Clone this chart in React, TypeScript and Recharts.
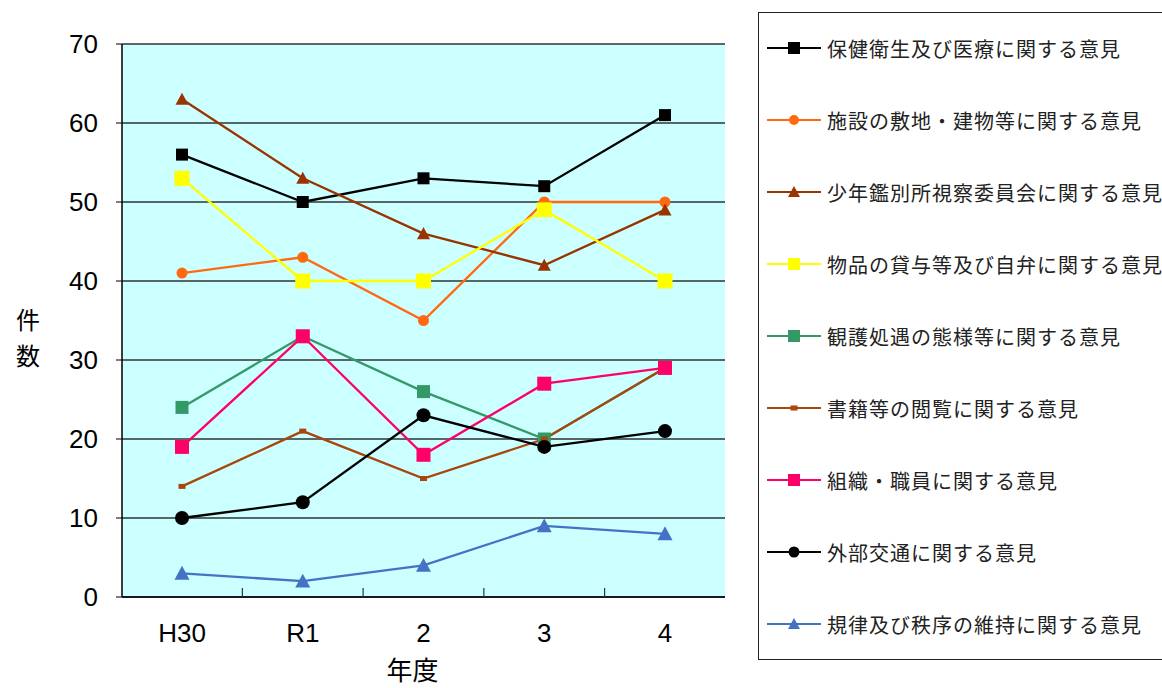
import React from 'react';
import { LineChart, Line, XAxis, YAxis, CartesianGrid } from 'recharts';

const years = ['H30', 'R1', '2', '3', '4'];
const yTicks = [0, 10, 20, 30, 40, 50, 60, 70];

const health = [56, 50, 53, 52, 61];
const facility = [41, 43, 35, 50, 50];
const committee = [63, 53, 46, 42, 49];
const goods = [53, 40, 40, 49, 40];
const treatment = [24, 33, 26, 20, 29];
const books = [14, 21, 15, 20, 29];
const staff = [19, 33, 18, 27, 29];
const contact = [10, 12, 23, 19, 21];
const discipline = [3, 2, 4, 9, 8];

const seriesNames = [
  '保健衛生及び医療に関する意見',
  '施設の敷地・建物等に関する意見',
  '少年鑑別所視察委員会に関する意見',
  '物品の貸与等及び自弁に関する意見',
  '観護処遇の態様等に関する意見',
  '書籍等の閲覧に関する意見',
  '組織・職員に関する意見',
  '外部交通に関する意見',
  '規律及び秩序の維持に関する意見',
];
const seriesValues = [health, facility, committee, goods, treatment, books, staff, contact, discipline];
const seriesColors = ['#000000', '#FF6A10', '#993300', '#FFFF00', '#339966', '#A8460C', '#FF0066', '#000000', '#4472C4'];
const seriesShapes = ['square', 'circle', 'triangle', 'square', 'square', 'smallsq', 'square', 'circle', 'triangle'];
const seriesSizes = [12, 11, 13, 15, 13, 7, 14, 14, 15];

const X_PAD = 60;
const TICK_MARGIN = 27;

const data = years.map((y, i) => {
  const row: Record<string, string | number> = { year: y };
  seriesValues.forEach((vals, s) => {
    row['s' + s] = vals[i];
  });
  return row;
});

function markerEl(shape: string, cx: number, cy: number, size: number, color: string, key?: any) {
  const h = size / 2;
  if (shape === 'circle') return <circle key={key} cx={cx} cy={cy} r={h} fill={color} stroke="none" />;
  if (shape === 'triangle')
    return (
      <polygon key={key} points={`${cx},${cy - h} ${cx + h},${cy + h * 0.85} ${cx - h},${cy + h * 0.85}`} fill={color} />
    );
  if (shape === 'smallsq') return <rect key={key} x={cx - 3.5} y={cy - 2.5} width={7} height={5} fill={color} />;
  return <rect key={key} x={cx - h} y={cy - h} width={size} height={size} fill={color} />;
}

const XTick = (props: any) => {
  const { x, y, payload, index, visibleTicksCount, width } = props;
  const count = visibleTicksCount || years.length;
  const step = (Number(width) - 2 * X_PAD) / (count - 1);
  const axisY = y - TICK_MARGIN;
  return (
    <g>
      <text x={x} y={y} dy="0.71em" textAnchor="middle" fontSize={26} fill="#000" fontFamily="'Liberation Sans', Arial">
        {payload.value}
      </text>
      {index < count - 1 && isFinite(step) ? (
        <line x1={x + step / 2} x2={x + step / 2} y1={axisY} y2={axisY - 9} stroke="#333" strokeWidth={1.2} />
      ) : null}
    </g>
  );
};

const YLabel = (props: any) => {
  const vb = props.viewBox || {};
  const cy = vb.y + vb.height / 2;
  return (
    <text x={28} y={cy} textAnchor="middle" fontSize={24} fill="#000" fontFamily="'Noto Sans CJK JP'">
      <tspan x={28} dy={8}>件</tspan>
      <tspan x={28} dy={36}>数</tspan>
    </text>
  );
};

const XLabel = (props: any) => {
  const vb = props.viewBox || {};
  return (
    <text x={vb.x + vb.width / 2 - 11} y={680} textAnchor="middle" fontSize={26} fill="#000" fontFamily="'Noto Sans CJK JP'">
      年度
    </text>
  );
};

const LegendBox = () => (
  <div
    style={{
      position: 'absolute',
      left: 758,
      top: 12,
      width: 420,
      height: 648,
      border: '1px solid #222',
      background: '#fff',
      boxSizing: 'border-box',
      fontFamily: "'Noto Sans CJK JP'",
    }}
  >
    {seriesNames.map((name, i) => (
      <div
        key={name}
        style={{ position: 'absolute', left: 8, top: 35 + i * 72 - 14, height: 28, display: 'flex', alignItems: 'center', whiteSpace: 'nowrap' }}
      >
        <svg width={54} height={28} style={{ display: 'block' }}>
          <line x1={0} y1={14} x2={54} y2={14} stroke={seriesColors[i]} strokeWidth={2} />
          {markerEl(seriesShapes[i], 27, 14, Math.min(seriesSizes[i], 12) - (seriesShapes[i] === 'circle' ? 1 : 0), seriesColors[i])}
        </svg>
        <span style={{ marginLeft: 6, fontSize: 20, letterSpacing: 1, color: '#222' }}>{name}</span>
      </div>
    ))}
  </div>
);

export default function App() {
  return (
    <div style={{ position: 'absolute', left: 0, top: 0, width: 1162, height: 688, background: '#fff', overflow: 'hidden' }}>
      <LineChart width={1162} height={688} data={data} margin={{ top: 44, right: 437, bottom: 31, left: 0 }}>
        <CartesianGrid vertical={false} fill="#CCFFFF" stroke="#333" strokeWidth={1.3} />
        <XAxis
          dataKey="year"
          padding={{ left: X_PAD, right: X_PAD }}
          height={60}
          tickSize={0}
          tickMargin={TICK_MARGIN}
          interval={0}
          axisLine={{ stroke: '#000', strokeWidth: 1.5 }}
          tickLine={false}
          tick={<XTick />}
          label={<XLabel />}
        />
        <YAxis
          domain={[0, 70]}
          ticks={yTicks}
          width={122}
          tickSize={6}
          tickMargin={18}
          interval={0}
          axisLine={{ stroke: '#000', strokeWidth: 1.5 }}
          tickLine={{ stroke: '#000' }}
          tick={{ fontSize: 26, fill: '#000', fontFamily: "'Liberation Sans', Arial" }}
          label={<YLabel />}
        />
        <YAxis yAxisId="r" orientation="right" domain={[0, 70]} width={0} tick={false} tickLine={false} axisLine={{ stroke: '#999', strokeWidth: 1.5 }} />
        {seriesNames.map((name, s) => (
          <Line
            key={name}
            dataKey={'s' + s}
            name={name}
            stroke={seriesColors[s]}
            strokeWidth={2.3}
            isAnimationActive={false}
            activeDot={false}
            dot={(p: any) => markerEl(seriesShapes[s], p.cx, p.cy, seriesSizes[s], seriesColors[s], `${s}-${p.index}`)}
          />
        ))}
      </LineChart>
      <LegendBox />
    </div>
  );
}
